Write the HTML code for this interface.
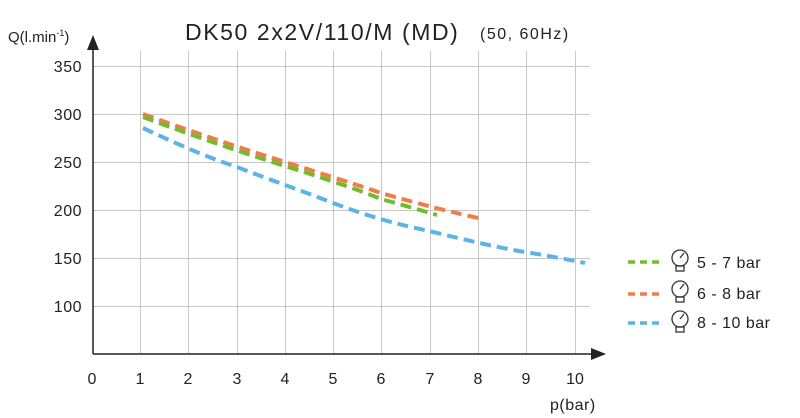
<!DOCTYPE html>
<html><head><style>body{margin:0;background:#fff}svg{display:block}</style></head><body>
<svg width="800" height="418" xmlns="http://www.w3.org/2000/svg" font-family="Liberation Sans, sans-serif">
<g stroke="#c8c8c8" stroke-width="1">
<line x1="140.5" y1="51" x2="140.5" y2="354"/><line x1="188.5" y1="51" x2="188.5" y2="354"/>
<line x1="237.5" y1="51" x2="237.5" y2="354"/><line x1="285.5" y1="51" x2="285.5" y2="354"/>
<line x1="333.5" y1="51" x2="333.5" y2="354"/><line x1="381.5" y1="51" x2="381.5" y2="354"/>
<line x1="430.5" y1="51" x2="430.5" y2="354"/><line x1="478.5" y1="51" x2="478.5" y2="354"/>
<line x1="526.5" y1="51" x2="526.5" y2="354"/><line x1="575.5" y1="51" x2="575.5" y2="354"/>
<line x1="93" y1="66.5" x2="590" y2="66.5"/><line x1="93" y1="114.5" x2="590" y2="114.5"/>
<line x1="93" y1="162.5" x2="590" y2="162.5"/><line x1="93" y1="210.5" x2="590" y2="210.5"/>
<line x1="93" y1="258.5" x2="590" y2="258.5"/><line x1="93" y1="306.5" x2="590" y2="306.5"/>
</g>
<line x1="93" y1="354" x2="93" y2="48" stroke="#222" stroke-width="1.5"/>
<polygon points="93,35 87,50 99,50" fill="#222"/>
<line x1="93" y1="354" x2="592" y2="354" stroke="#222" stroke-width="1.5"/>
<polygon points="606,354 591,348 591,360" fill="#222"/>
<g fill="none" stroke-width="4" stroke-dasharray="11,6">
<path d="M143,128 C190,150 210,158 237,167 C270,180 300,190 333,203 C370,217 400,225 429,231 C470,241 500,248 525,252 C550,256 570,260 585,263" stroke="#5bb4e5"/>
<path d="M143,114 Q215,140 285,162 T381,193 Q440,210 483,219" stroke="#ef7d4a"/>
<path d="M143,117 Q215,144 285,166 T381,199 Q410,207 437,215" stroke="#72bb2c"/>
</g>
<g font-size="16" fill="#222" text-anchor="end" letter-spacing="0.5">
<text x="82" y="72">350</text><text x="82" y="120">300</text><text x="82" y="168">250</text>
<text x="82" y="216">200</text><text x="82" y="264">150</text><text x="82" y="312">100</text>
</g>
<g font-size="16" fill="#222" text-anchor="middle">
<text x="92" y="384">0</text><text x="140" y="384">1</text><text x="188" y="384">2</text><text x="237" y="384">3</text>
<text x="285" y="384">4</text><text x="333" y="384">5</text><text x="381" y="384">6</text><text x="430" y="384">7</text>
<text x="478" y="384">8</text><text x="526" y="384">9</text><text x="575" y="384">10</text>
</g>
<text x="8" y="42" font-size="15" fill="#222">Q(l.min<tspan font-size="9" dy="-6">-1</tspan><tspan dy="6">)</tspan></text>
<text x="550" y="410" font-size="16" fill="#222" letter-spacing="0.5">p(bar)</text>
<text x="185" y="40" font-size="23" fill="#222" letter-spacing="1.6">DK50 2x2V/110/M (MD)</text>
<text x="480" y="39" font-size="16" fill="#222" letter-spacing="1.5">(50, 60Hz)</text>
<g font-size="16" fill="#222">
<line x1="628" y1="262" x2="664" y2="262" stroke="#72bb2c" stroke-width="3.5" stroke-dasharray="7,5"/>
<line x1="628" y1="294" x2="664" y2="294" stroke="#ef7d4a" stroke-width="3.5" stroke-dasharray="7,5"/>
<line x1="628" y1="323" x2="664" y2="323" stroke="#5bb4e5" stroke-width="3.5" stroke-dasharray="7,5"/>
<g fill="none" stroke="#333" stroke-width="1.3">
<circle cx="680" cy="258" r="8"/><rect x="676" y="266" width="8" height="5"/><line x1="680" y1="258" x2="684" y2="253"/>
<circle cx="680" cy="289" r="8"/><rect x="676" y="297" width="8" height="5"/><line x1="680" y1="289" x2="684" y2="284"/>
<circle cx="680" cy="319" r="8"/><rect x="676" y="327" width="8" height="5"/><line x1="680" y1="319" x2="684" y2="314"/>
</g>
<text x="697" y="268" letter-spacing="0.5">5 - 7 bar</text>
<text x="697" y="299" letter-spacing="0.5">6 - 8 bar</text>
<text x="697" y="328" letter-spacing="0.5">8 - 10 bar</text>
</g>
</svg>
</body></html>
